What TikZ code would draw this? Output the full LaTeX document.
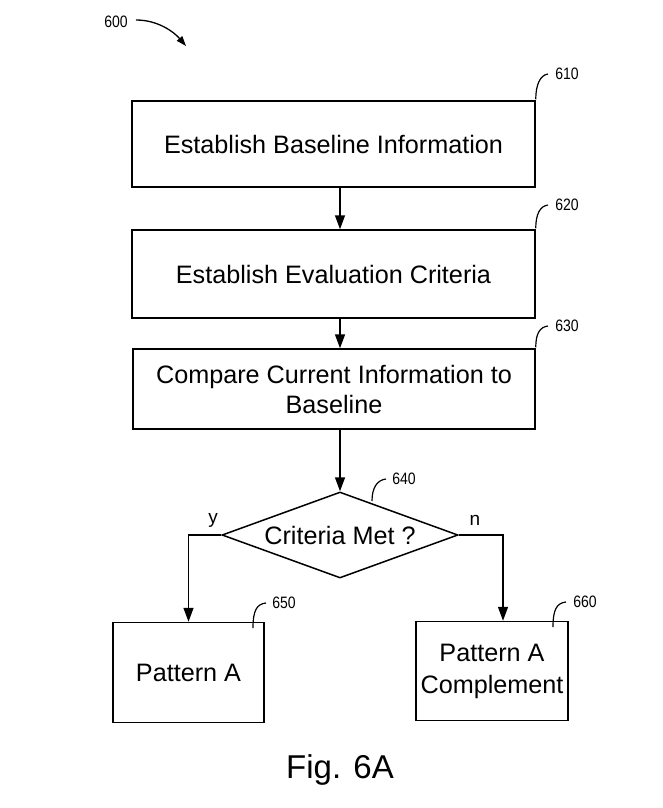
\documentclass[tikz,border=0pt]{standalone}
\usepackage{fontspec}
\setmainfont{Liberation Sans}
\newfontfamily\numfont[FakeStretch=0.85]{Liberation Sans}
\usetikzlibrary{arrows.meta,shapes.geometric}
\begin{document}
\begin{tikzpicture}[x=1pt,y=-1pt,
  box/.style={draw,line width=1.5pt,rectangle,inner sep=0pt,align=center,font=\fontsize{25.2}{30}\selectfont},
  arr/.style={line width=1.5pt,-{Triangle[length=14pt,width=10pt]}},
  lead/.style={line width=1.2pt},
  num/.style={font=\numfont\fontsize{16.5}{18}\selectfont,inner sep=0pt},
  yn/.style={font=\fontsize{19}{20}\selectfont,inner sep=0pt}]
\useasboundingbox (0,0) rectangle (663,808);

\node[box,minimum width=403pt,minimum height=86pt] (b1) at (333.5,144) {Establish Baseline Information};
\node[box,minimum width=403pt,minimum height=88pt] (b2) at (333.5,274) {Establish Evaluation Criteria};
\node[box,minimum width=402pt,minimum height=80pt] (b3) at (334,389) {Compare Current Information to\\Baseline};
\node[draw,line width=1.5pt,diamond,aspect=2.74,minimum width=236pt,minimum height=86pt,inner sep=0pt,font=\fontsize{25.2}{30}\selectfont] (d) at (340,535) {Criteria Met ?};
\node[box,minimum width=151pt,minimum height=100pt] (b5) at (188.5,672.5) {Pattern A};
\node[box,minimum width=152pt,minimum height=99pt,font=\fontsize{25.2}{32}\selectfont] (b6) at (492,671) {Pattern A\\Complement};

\coordinate (ncol) at (503,600);
\draw[arr] (b1.south -| 340,0) -- (b2.north -| 340,0);
\draw[arr] (b2.south -| 340,0) -- (b3.north -| 340,0);
\draw[arr] (b3.south -| d.north) -- (d.north);
\draw[arr] (d.west) -| (b5.north);
\draw[arr] (d.east) -| (b6.north -| ncol);

\node[yn] (ly) at (213,520) {y};
\node[yn] (ln) at (475,520) {n};

% reference numerals
\node[num] (n600) at (116,22) {600};
\coordinate (a600s) at (136,20);
\coordinate (a600e) at (186,46);
\draw[line width=1.3pt,-{Triangle[length=10pt,width=7pt]}] (a600s) .. controls (158,20) and (174,32) .. (a600e);

\node[num] (n610) at (567,74) {610};
\draw[lead] (b1.north east) ++(0,-1) .. controls +(0,-14) and (540,75) .. (548,74);
\node[num] (n620) at (567,205) {620};
\draw[lead] (b2.north east) ++(0,-1) .. controls +(0,-14) and (540,206) .. (548,205);
\node[num] (n630) at (567,326) {630};
\draw[lead] (b3.north east) ++(0,-1) .. controls +(0,-14) and (540,327) .. (548,326);
\node[num] (n640) at (404,479) {640};
\coordinate (l640) at (372,501);
\draw[lead] (l640) .. controls (372,488) and (377,480) .. (386,479);
\node[num] (n650) at (284,603) {650};
\coordinate (l650) at (253,628);
\draw[lead] (l650) .. controls (253,610) and (257,604) .. (266,603);
\node[num] (n660) at (585,602) {660};
\coordinate (l660) at (553,627);
\draw[lead] (l660) .. controls (553,609) and (557,603) .. (566,602);

\node[font=\fontsize{33}{36}\selectfont,inner sep=0pt] (fig) at (340,770) {Fig. 6A};
\end{tikzpicture}
\end{document}
